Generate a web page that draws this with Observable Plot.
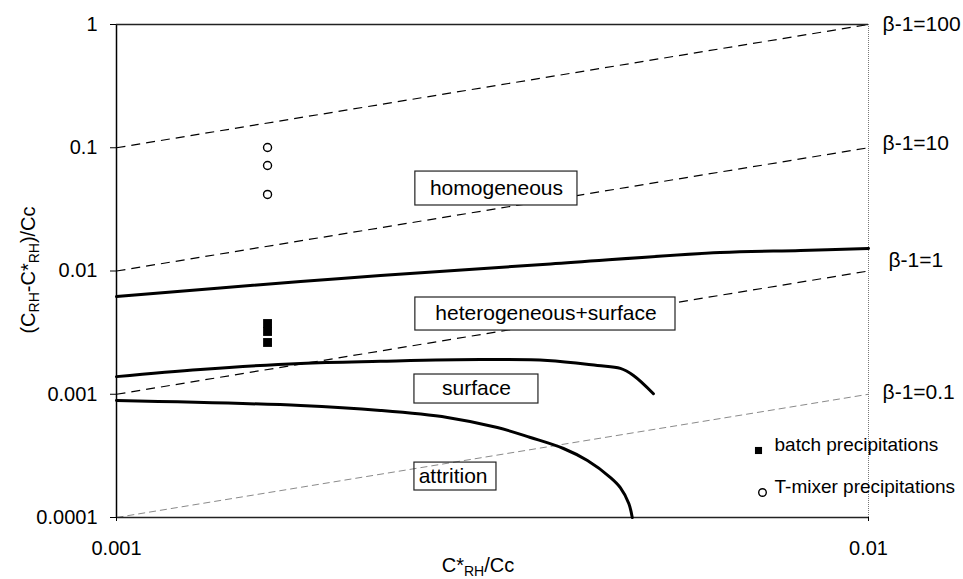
<!DOCTYPE html>
<html><head><meta charset="utf-8">
<script src="https://cdn.jsdelivr.net/npm/d3@7"></script>
<script src="https://cdn.jsdelivr.net/npm/@observablehq/plot@0.6"></script>
<style>body{margin:0;background:#fff} #chart{width:963px;height:579px}</style>
</head><body><div id="chart"></div>
<script>
// Axis ticks
const xTicks = [0.001, 0.01];
const xTickLabels = ["0.001", "0.01"];
const yTicks = [1, 0.1, 0.01, 0.001, 0.0001];
const yTickLabels = ["1", "0.1", "0.01", "0.001", "0.0001"];

// β-1 iso-lines (dashed)
const betaNames = ["β-1=100", "β-1=10", "β-1=1", "β-1=0.1"];
const betaX1 = [0.001, 0.001, 0.001, 0.001];
const betaY1 = [0.1, 0.01, 0.001, 0.0001];
const betaX2 = [0.01, 0.01, 0.01, 0.01];
const betaY2 = [1, 0.1, 0.01, 0.001];
const betaLabelX = [0.01044, 0.01044, 0.01063, 0.01044];
const betaLabelY = [1, 0.108, 0.0122, 0.00103];

// Boundary curves (thick solid)
const upperX = [0.001, 0.001757, 0.002244, 0.003777, 0.00635, 0.00812, 0.01];
const upperY = [0.0062, 0.00822, 0.00918, 0.0114, 0.01413, 0.01467, 0.01525];
const surfaceX = [0.001, 0.001293, 0.001757, 0.002244, 0.003048, 0.003742, 0.004362, 0.004677, 0.004869, 0.005176];
const surfaceY = [0.00139, 0.00159, 0.00178, 0.00185, 0.00191, 0.00188, 0.00171, 0.00162, 0.00142, 0.00101];
const attritionX = [0.001, 0.001757, 0.002244, 0.002754, 0.00321, 0.003552, 0.00393, 0.004229, 0.004539, 0.004677, 0.0048, 0.004851];
const attritionY = [0.000889, 0.00081, 0.000738, 0.000648, 0.000537, 0.000446, 0.000363, 0.00029, 0.000211, 0.000175, 0.00013, 0.0001];

// Experimental points
const tmixerX = [0.001588, 0.001588, 0.001588];
const tmixerY = [0.1005, 0.0718, 0.0418];
const batchX = [0.001588, 0.001588, 0.001588];
const batchY = [0.00375, 0.00323, 0.00263];

// Region labels
const regionNames = ["homogeneous", "heterogeneous+surface", "surface", "attrition"];
const regionX = [0.003201, 0.003725, 0.003011, 0.002803];
const regionY = [0.0467, 0.00452, 0.001113, 0.000215];
const boxX1 = [0.002497, 0.002497, 0.00249, 0.00249];
const boxX2 = [0.004102, 0.005538, 0.00364, 0.003201];
const boxY1 = [0.0641, 0.006095, 0.001446, 0.000279];
const boxY2 = [0.034, 0.003289, 0.000841, 0.0001656];
const boxFilled = [true, true, true, false];

// Legend
const legendNames = ["batch precipitations", "T-mixer precipitations"];

const betaLines = betaNames.map((n, i) => ({n, x1: betaX1[i], y1: betaY1[i], x2: betaX2[i], y2: betaY2[i], lx: betaLabelX[i], ly: betaLabelY[i]}));
const toPts = (xs, ys) => xs.map((x, i) => ({x, y: ys[i]}));
const regions = regionNames.map((n, i) => ({n, x: regionX[i], y: regionY[i], x1: boxX1[i], x2: boxX2[i], y1: boxY1[i], y2: boxY2[i], filled: boxFilled[i]}));

const font = "'Liberation Sans', Arial, sans-serif";
const chart = Plot.plot({
  width: 963, height: 579,
  marginLeft: 116, marginRight: 95, marginTop: 24, marginBottom: 62,
  style: {fontFamily: font, fontSize: "20px", color: "black", background: "white"},
  x: {type: "log", domain: [0.001, 0.01], axis: null},
  y: {type: "log", domain: [0.0001, 1], axis: null},
  marks: [
    Plot.link(betaLines.slice(0, 3), {x1: "x1", y1: "y1", x2: "x2", y2: "y2", stroke: "black", strokeWidth: 1.2, strokeDasharray: "9,6"}),
    Plot.link(betaLines.slice(3), {x1: "x1", y1: "y1", x2: "x2", y2: "y2", stroke: "#8a8a8a", strokeWidth: 1, strokeDasharray: "7,4"}),
    Plot.ruleX([0.01], {stroke: "#777", strokeWidth: 1, strokeDasharray: "1,1"}),
    Plot.ruleX([0.001], {stroke: "black", strokeWidth: 1.5}),
    Plot.ruleY([1], {stroke: "#222", strokeWidth: 1.5}),
    Plot.ruleY([0.0001], {stroke: "#222", strokeWidth: 1.5}),
    Plot.axisY({ticks: yTicks, tickFormat: d => yTickLabels[yTicks.indexOf(d)], tickSize: 6, tickPadding: 13, fontSize: 20, label: null}),
    Plot.axisX({ticks: xTicks, tickFormat: d => xTickLabels[xTicks.indexOf(d)], tickSize: 4, tickPadding: 19, fontSize: 20, label: null}),
    Plot.rect(regions, {x1: "x1", x2: "x2", y1: "y1", y2: "y2", fill: d => d.filled ? "white" : "none", stroke: "#222", strokeWidth: 1.2}),
    Plot.text(regions, {x: "x", y: "y", text: "n", fontSize: 21, fill: "black"}),
    Plot.line(toPts(upperX, upperY), {x: "x", y: "y", stroke: "black", strokeWidth: 3, curve: "catmull-rom"}),
    Plot.line(toPts(surfaceX, surfaceY), {x: "x", y: "y", stroke: "black", strokeWidth: 3, curve: "catmull-rom"}),
    Plot.line(toPts(attritionX, attritionY), {x: "x", y: "y", stroke: "black", strokeWidth: 3, curve: "catmull-rom"}),
    Plot.dot(toPts(tmixerX, tmixerY), {x: "x", y: "y", r: 4, stroke: "black", strokeWidth: 1.4, fill: "white"}),
    Plot.dot(toPts(batchX, batchY), {x: "x", y: "y", r: 5, symbol: "square", fill: "black", stroke: "none"}),
    Plot.text(betaLines, {x: "lx", y: "ly", text: "n", textAnchor: "start", fontSize: 21, fill: "black"}),
    Plot.dot([legendNames[0]], {frameAnchor: "bottom-right", dx: -110, dy: -67, symbol: "square", r: 4, fill: "black", stroke: "none"}),
    Plot.dot([legendNames[1]], {frameAnchor: "bottom-right", dx: -106, dy: -25, r: 3.8, stroke: "black", strokeWidth: 1.4, fill: "white"}),
    Plot.text([legendNames[0]], {frameAnchor: "bottom-right", dx: -94, dy: -67, textAnchor: "start", fontSize: 19, fill: "black"}),
    Plot.text([legendNames[1]], {frameAnchor: "bottom-right", dx: -94, dy: -25, textAnchor: "start", fontSize: 19, fill: "black"})
  ]
});
document.getElementById("chart").appendChild(chart);

// Axis titles with subscripts
const svg = d3.select(chart);
function addLabel(sel, parts) {
  parts.forEach(([t, sub]) => {
    sel.append("tspan").attr("dy", sub === 1 ? 4 : sub === -1 ? -4 : 0).attr("font-size", sub === 1 ? 14 : 20).text(t);
  });
}
const yl = svg.append("text").attr("transform", "translate(35,270) rotate(-90)").attr("text-anchor", "middle")
  .attr("font-size", 20).attr("font-family", font).attr("fill", "black");
addLabel(yl, [["(C", 0], ["RH", 1], ["-C*", -1], ["RH", 1], [")/Cc", -1]]);
const xl = svg.append("text").attr("transform", "translate(478,572)").attr("text-anchor", "middle")
  .attr("font-size", 20).attr("font-family", font).attr("fill", "black");
addLabel(xl, [["C*", 0], ["RH", 1], ["/Cc", -1]]);
</script></body></html>
